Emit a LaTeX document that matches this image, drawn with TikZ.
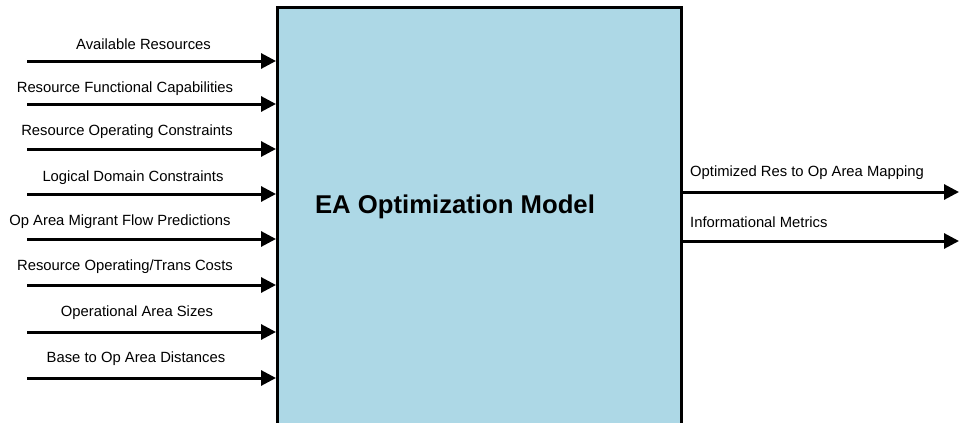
\documentclass[tikz,border=0pt]{standalone}
\usepackage{fontspec}
\setmainfont{Liberation Sans}
\usetikzlibrary{arrows.meta,positioning}
\definecolor{ModelColor}{RGB}{173,216,230}
\tikzset{
  inlabel/.style={inner sep=0pt,font=\fontsize{14.8}{17}\selectfont},
  flow/.style={-{Triangle[length=15pt,width=15pt]},line width=3pt}
}

\begin{document}
\begin{tikzpicture}[x=1pt,y=-1pt]
\useasboundingbox (0,0) rectangle (959,423);
\node[draw,line width=3pt,fill=ModelColor,minimum width=404pt,minimum height=417pt,inner sep=0pt] (model) at (479.5,215.5) {};
\node[font=\bfseries\fontsize{25.7}{30}\selectfont] (title) at (455,207) {EA Optimization Model};
% inputs
\node[inlabel] (avail) at (143.5,44) {Available Resources};
\node[inlabel] (func) at (125,89) {Resource Functional Capabilities};
\node[inlabel] (opcon) at (127,132) {Resource Operating Constraints};
\node[inlabel] (logic) at (133,178) {Logical Domain Constraints};
\node[inlabel] (migr) at (120,222) {Op Area Migrant Flow Predictions};
\node[inlabel] (cost) at (125,267) {Resource Operating/Trans Costs};
\node[inlabel] (size) at (137,313) {Operational Area Sizes};
\node[inlabel] (dist) at (136,359) {Base to Op Area Distances};
\coordinate (in1) at (27,61);
\coordinate (in2) at (27,104);
\coordinate (in3) at (27,149);
\coordinate (in4) at (27,194);
\coordinate (in5) at (27,239);
\coordinate (in6) at (27,285);
\coordinate (in7) at (27,332);
\coordinate (in8) at (27,378);
\draw[flow] (in1) -- (in1 -| model.west);
\draw[flow] (in2) -- (in2 -| model.west);
\draw[flow] (in3) -- (in3 -| model.west);
\draw[flow] (in4) -- (in4 -| model.west);
\draw[flow] (in5) -- (in5 -| model.west);
\draw[flow] (in6) -- (in6 -| model.west);
\draw[flow] (in7) -- (in7 -| model.west);
\draw[flow] (in8) -- (in8 -| model.west);
% outputs
\node[inlabel,anchor=west] (mapping) at (690,173) {Optimized Res to Op Area Mapping};
\node[inlabel,anchor=west] (metrics) at (690,222) {Informational Metrics};
\coordinate (out1) at (959,192);
\coordinate (out2) at (959,241);
\draw[flow] (out1 -| model.east) -- (out1);
\draw[flow] (out2 -| model.east) -- (out2);
\end{tikzpicture}
\end{document}
